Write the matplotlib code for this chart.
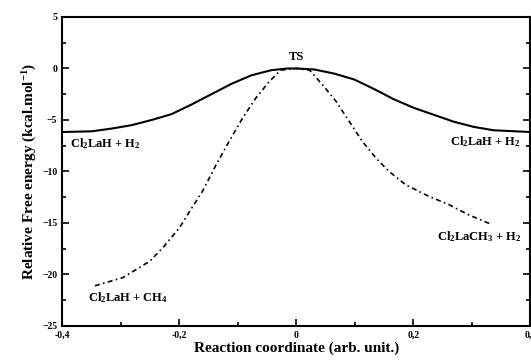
import numpy as np
import matplotlib
matplotlib.use('Agg')
import matplotlib.pyplot as plt
from matplotlib.ticker import MultipleLocator, FuncFormatter

plt.rcParams['font.family'] = 'Liberation Serif'
plt.rcParams['font.weight'] = 'bold'
plt.rcParams['axes.labelweight'] = 'bold'
plt.rcParams['mathtext.fontset'] = 'custom'
plt.rcParams['mathtext.rm'] = 'Liberation Serif:bold'
plt.rcParams['mathtext.default'] = 'rm'

# solid curve: Cl2LaH + H2 -> TS -> Cl2LaH + H2
x_h2 = [-0.40, -0.349, -0.315, -0.281, -0.247, -0.213, -0.179, -0.145, -0.111,
        -0.077, -0.043, -0.015, 0.0, 0.031, 0.065, 0.099, 0.133, 0.167, 0.201,
        0.235, 0.269, 0.303, 0.337, 0.40]
e_h2 = [-6.17, -6.1, -5.83, -5.5, -5.0, -4.43, -3.5, -2.5, -1.5,
        -0.67, -0.17, 0.0, 0.0, -0.1, -0.5, -1.07, -2.0, -3.0, -3.83,
        -4.5, -5.17, -5.67, -6.0, -6.17]

# dashed curve: Cl2LaH + CH4 -> TS -> Cl2LaCH3 + H2
x_ch4 = [-0.344, -0.296, -0.25, -0.228, -0.2, -0.1825, -0.16, -0.137, -0.115,
         -0.092, -0.0695, -0.0465, -0.0265, 0.0, 0.0226, 0.045, 0.068, 0.0906,
         0.113, 0.136, 0.1585, 0.187, 0.226, 0.26, 0.294, 0.334]
e_ch4 = [-21.1, -20.3, -18.7, -17.4, -15.5, -13.9, -11.9, -9.35, -7.1,
         -4.84, -2.9, -1.29, -0.16, 0.0, -0.16, -1.6, -3.2, -5.16,
         -7.09, -8.7, -10.0, -11.3, -12.4, -13.2, -14.2, -15.15]

fig = plt.figure(figsize=(5.31, 3.61), dpi=100)
ax = fig.add_axes([0.117, 0.097, 0.882, 0.856])

ax.plot(x_h2, e_h2, color='black', lw=1.5)
ax.plot(x_ch4, e_ch4, color='black', lw=1.2, linestyle=(0, (3, 2, 1, 2)))

ax.set_xlim(-0.4, 0.4)
ax.set_ylim(-25, 5)
ax.xaxis.set_major_locator(MultipleLocator(0.2))
ax.xaxis.set_minor_locator(MultipleLocator(0.1))
ax.yaxis.set_major_locator(MultipleLocator(5))
ax.yaxis.set_minor_locator(MultipleLocator(2.5))
ax.xaxis.set_major_formatter(FuncFormatter(lambda v, p: ('%g' % round(v, 1)).replace('.', ',')))
ax.tick_params(which='both', direction='in', right=True, top=False, labelsize=7, width=1.2)
ax.tick_params(which='major', length=5)
ax.tick_params(which='minor', length=3)
for s in ax.spines.values():
    s.set_linewidth(1.5)

ax.set_xlabel('Reaction coordinate (arb. unit.)', fontsize=11, labelpad=1)
ax.set_ylabel('Relative Free energy (kcal.mol$^{-1}$)', fontsize=11, labelpad=2)

fs = 9
ax.text(-0.387, -7.3, 'Cl$_2$LaH + H$_2$', fontsize=fs, va='center', ha='left')
ax.text(0.0, 1.1, 'TS', fontsize=fs, va='center', ha='center')
ax.text(0.384, -7.1, 'Cl$_2$LaH + H$_2$', fontsize=fs, va='center', ha='right')
ax.text(0.384, -16.3, 'Cl$_2$LaCH$_3$ + H$_2$', fontsize=fs, va='center', ha='right')
ax.text(-0.355, -22.2, 'Cl$_2$LaH + CH$_4$', fontsize=fs, va='center', ha='left')

fig.savefig('out.png', dpi=100)
